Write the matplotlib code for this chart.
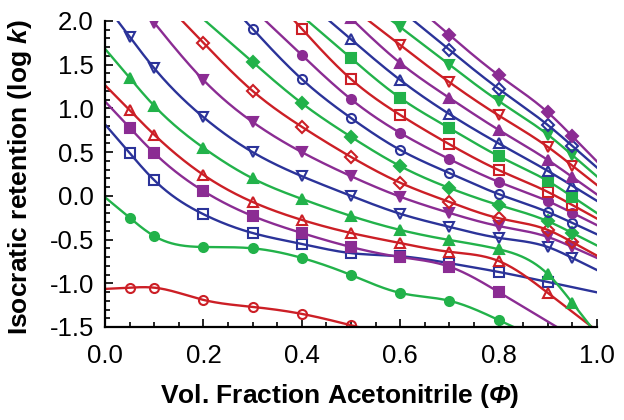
import numpy as np
import matplotlib
matplotlib.use("Agg")
import matplotlib.pyplot as plt
from matplotlib.ticker import MultipleLocator

plt.rcParams['font.family'] = ['Liberation Sans', 'DejaVu Sans']
plt.rcParams['mathtext.fontset'] = 'custom'
# 数式部分 (Φ, k) は太字イタリック
plt.rcParams['mathtext.rm'] = 'Liberation Sans:bold:italic'
plt.rcParams['mathtext.it'] = 'Liberation Sans:bold:italic'

# データ (x = 体積分率, y = log k)
phi_a = [0.05, 0.1, 0.2, 0.3, 0.4, 0.5]
phi_b = [0.05, 0.1, 0.2, 0.3, 0.4, 0.5, 0.6, 0.7, 0.8]
phi_c = [0.05, 0.1, 0.2, 0.3, 0.4, 0.5, 0.6, 0.7, 0.8, 0.9]
phi_d = [0.05, 0.1, 0.2, 0.3, 0.4, 0.5, 0.6, 0.7, 0.8, 0.9, 0.95]
phi_e = [0.1, 0.2, 0.3, 0.4, 0.5, 0.6, 0.7, 0.8, 0.9, 0.95]
phi_f = [0.2, 0.3, 0.4, 0.5, 0.6, 0.7, 0.8, 0.9, 0.95]
phi_g = [0.3, 0.4, 0.5, 0.6, 0.7, 0.8, 0.9, 0.95]
phi_h = [0.4, 0.5, 0.6, 0.7, 0.8, 0.9, 0.95]
phi_i = [0.5, 0.6, 0.7, 0.8, 0.9, 0.95]
phi_j = [0.6, 0.7, 0.8, 0.9, 0.95]
phi_k = [0.7, 0.8, 0.9, 0.95]

s01 = [-1.05, -1.05, -1.19, -1.27, -1.35, -1.48]
s02 = [-0.25, -0.46, -0.585, -0.60, -0.71, -0.905, -1.11, -1.20, -1.42]
s03 = [0.49, 0.18, -0.21, -0.425, -0.55, -0.655, -0.69, -0.77, -0.87, -0.985]
s04 = [0.78, 0.49, 0.055, -0.23, -0.425, -0.585, -0.70, -0.81, -1.10]
s05 = [0.98, 0.70, 0.24, -0.07, -0.275, -0.425, -0.54, -0.64, -0.745, -1.11]
s06 = [1.35, 1.03, 0.55, 0.20, -0.035, -0.23, -0.39, -0.505, -0.61, -0.895, -1.225]
s07 = [1.82, 1.46, 0.90, 0.50, 0.225, 0.0, -0.205, -0.355, -0.48, -0.585, -0.71]
s08 = [1.98, 1.325, 0.845, 0.50, 0.225, -0.01, -0.195, -0.345, -0.47, -0.585]
s09 = [1.75, 1.20, 0.79, 0.445, 0.15, -0.07, -0.255, -0.39, -0.53]
s10 = [1.53, 1.06, 0.675, 0.34, 0.09, -0.105, -0.29, -0.425]
s11 = [1.91, 1.335, 0.89, 0.525, 0.26, 0.02, -0.185, -0.31]
s12 = [1.61, 1.105, 0.72, 0.42, 0.16, -0.06, -0.195]
s13 = [1.91, 1.335, 0.925, 0.59, 0.295, 0.045, -0.105]
s14 = [1.575, 1.12, 0.775, 0.455, 0.17, -0.01]
s15 = [1.79, 1.325, 0.935, 0.60, 0.285, 0.115]
s16 = [2.03, 1.52, 1.12, 0.755, 0.41, 0.215]
s17 = [1.725, 1.30, 0.92, 0.56, 0.345]
s18 = [1.93, 1.50, 1.085, 0.70, 0.465]
s19 = [1.67, 1.225, 0.81, 0.57]
s20 = [1.84, 1.38, 0.955, 0.68]

series = [
    (phi_a, s01), (phi_b, s02), (phi_c, s03), (phi_b, s04), (phi_c, s05),
    (phi_d, s06), (phi_d, s07), (phi_e, s08), (phi_f, s09), (phi_g, s10),
    (phi_g, s11), (phi_h, s12), (phi_h, s13), (phi_i, s14), (phi_i, s15),
    (phi_i, s16), (phi_j, s17), (phi_j, s18), (phi_k, s19), (phi_k, s20),
]

colors = ["#CC1F26", "#22B24A", "#2B3399", "#8B2C93"]
markers = ["o", "o", "s", "s", "^", "^", "v", "v", "D", "D"]


def smooth(x, y, xs):
    # 自然3次スプライン (端は直線で外挿)
    x = np.asarray(x, float)
    y = np.asarray(y, float)
    n = len(x)
    h = np.diff(x)
    A = np.zeros((n, n))
    r = np.zeros(n)
    A[0, 0] = A[-1, -1] = 1
    for i in range(1, n - 1):
        A[i, i - 1] = h[i - 1]
        A[i, i] = 2 * (h[i - 1] + h[i])
        A[i, i + 1] = h[i]
        r[i] = 6 * ((y[i + 1] - y[i]) / h[i] - (y[i] - y[i - 1]) / h[i - 1])
    M = np.linalg.solve(A, r)
    out = np.empty_like(xs)
    for j, t in enumerate(xs):
        if t <= x[0]:
            d0 = (y[1] - y[0]) / h[0] - h[0] * (2 * M[0] + M[1]) / 6
            out[j] = y[0] + d0 * (t - x[0])
        elif t >= x[-1]:
            d1 = (y[-1] - y[-2]) / h[-1] + h[-1] * (M[-2] + 2 * M[-1]) / 6
            out[j] = y[-1] + d1 * (t - x[-1])
        else:
            i = min(np.searchsorted(x, t) - 1, n - 2)
            a = x[i + 1] - t
            b = t - x[i]
            out[j] = (M[i] * a**3 + M[i + 1] * b**3) / (6 * h[i]) \
                + (y[i] / h[i] - M[i] * h[i] / 6) * a \
                + (y[i + 1] / h[i] - M[i + 1] * h[i] / 6) * b
    return out


fig = plt.figure(figsize=(6.24, 4.2), dpi=100)
ax = fig.add_axes([105 / 624, 1 - 327 / 420, 492 / 624, 306 / 420])

xs = np.linspace(0, 1, 400)
for k, (px, py) in enumerate(series):
    c = colors[k % 4]
    ax.plot(xs, smooth(px, py, xs), color=c, lw=1.7)
    face = c if k % 2 == 1 else "none"
    ax.plot(px, py, ls="none", marker=markers[k % 10], ms=6.5,
            mfc=face, mec=c, mew=1.5)

ax.set_xlim(0, 1)
ax.set_ylim(-1.5, 2.0)
ax.xaxis.set_major_locator(MultipleLocator(0.2))
ax.xaxis.set_minor_locator(MultipleLocator(0.05))
ax.yaxis.set_major_locator(MultipleLocator(0.5))
ax.yaxis.set_minor_locator(MultipleLocator(0.1))
ax.xaxis.set_major_formatter(plt.FormatStrFormatter("%.1f"))
ax.yaxis.set_major_formatter(plt.FormatStrFormatter("%.1f"))
ax.tick_params(which="both", direction="in", width=1.2, labelsize=18.5)
ax.tick_params(which="major", length=6)
ax.tick_params(which="minor", length=3.5)
ax.tick_params(axis="x", pad=12)
ax.tick_params(axis="y", pad=8)
for s in ["top", "right"]:
    ax.spines[s].set_visible(False)
for s in ["left", "bottom"]:
    ax.spines[s].set_linewidth(1.6)

ax.set_xlabel(r"Vol. Fraction Acetonitrile ($\Phi$)",
              fontsize=19, fontweight="bold")
ax.set_ylabel(r"Isocratic retention (log $k$)",
              fontsize=19, fontweight="bold")
ax.xaxis.set_label_coords(0.477, -0.18)
ax.yaxis.set_label_coords(-0.145, 0.49)

plt.savefig("out.png", dpi=100)
